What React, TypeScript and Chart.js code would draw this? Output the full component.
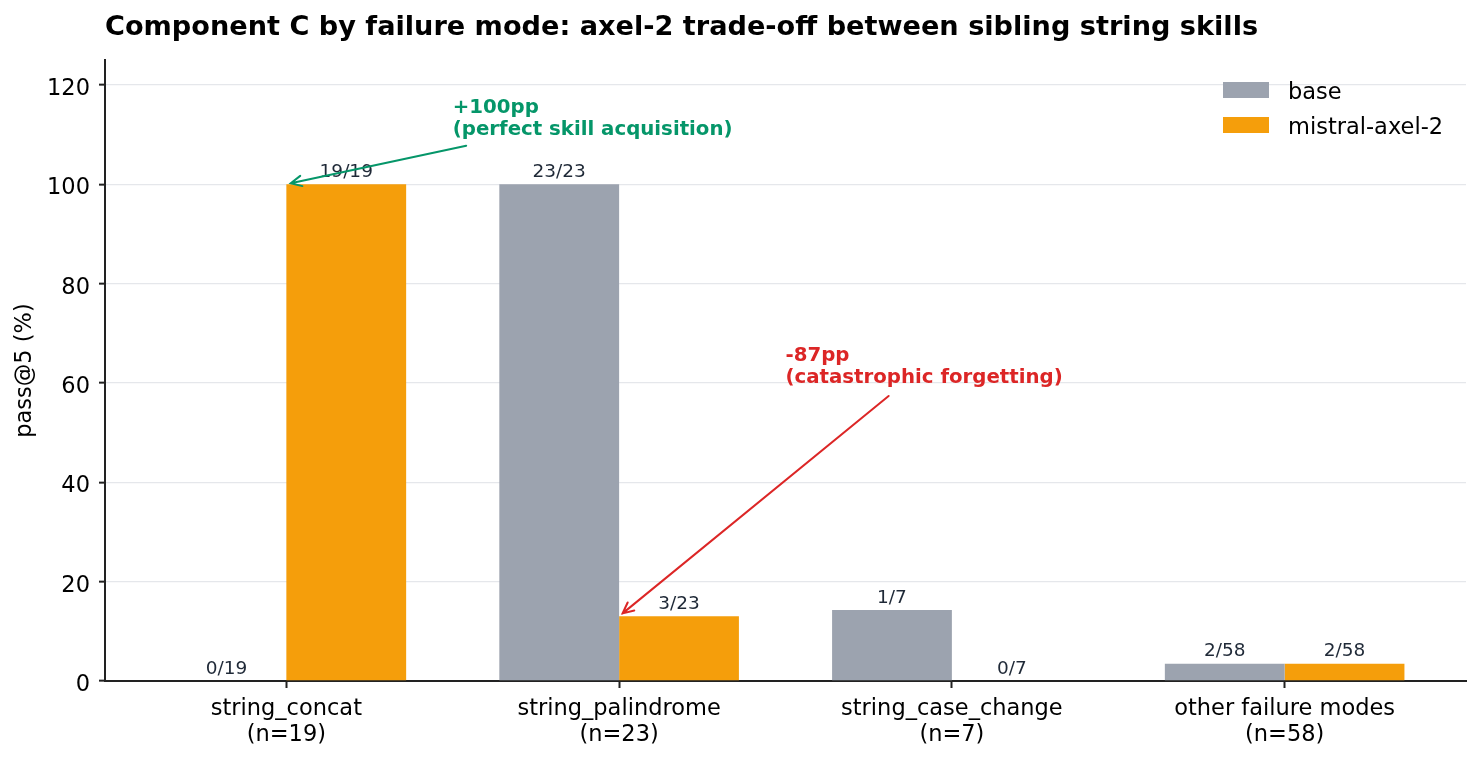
import React, { useEffect, useRef } from 'react';
import { Chart, registerables } from 'chart.js';

Chart.register(...registerables);

const FONT = "'DejaVu Sans', 'Liberation Sans', sans-serif";

// Data
const categories = ['string_concat', 'string_palindrome', 'string_case_change', 'other failure modes'];
const sampleSizes = [19, 23, 7, 58];
const basePct = [0, 100, 14.29, 3.45];
const axelPct = [100, 13.04, 0, 3.45];
const basePassed = [0, 23, 1, 2];
const axelPassed = [19, 3, 0, 2];
const yTicks = [0, 20, 40, 60, 80, 100, 120];

const seriesNames = ['base', 'mistral-axel-2'];
const seriesColors = ['#9ca3af', '#f59e0b'];

const annotations = [
    { lines: ['+100pp', '(perfect skill acquisition)'], color: '#059669', text: [0.5, 110], target: [0, 100] },
    { lines: ['-87pp', '(catastrophic forgetting)'], color: '#dc2626', text: [1.5, 60], target: [1, 13.04] },
];

const TITLE = 'Component C by failure mode: axel-2 trade-off between sibling string skills';

const overlayPlugin = {
    id: 'overlay',
    afterDatasetsDraw(chart: any) {
        const { ctx, scales } = chart;
        const xs = scales.x;
        const ys = scales.y;
        ctx.save();

        // y tick labels (drawn here to match the matplotlib baseline)
        ctx.font = `22.5px ${FONT}`;
        ctx.fillStyle = '#000';
        ctx.textAlign = 'right';
        ctx.textBaseline = 'alphabetic';
        yTicks.forEach(v => {
            ctx.fillText(String(v), 90, ys.getPixelForValue(v) + 10);
        });

        // count labels above bars
        const counts = [basePassed, axelPassed];
        ctx.font = `18.5px ${FONT}`;
        ctx.fillStyle = '#1f2937';
        ctx.textAlign = 'center';
        chart.data.datasets.forEach((_: any, di: number) => {
            const meta = chart.getDatasetMeta(di);
            meta.data.forEach((bar: any, i: number) => {
                ctx.fillText(`${counts[di][i]}/${sampleSizes[i]}`, bar.x, bar.y - 7.5);
            });
        });

        // annotations with arrows
        const fs = 19.75;
        const lh = 21.5;
        const pad = 5.5;
        const shrink = 4.5;
        annotations.forEach(a => {
            ctx.font = `bold ${fs}px ${FONT}`;
            const tx = xs.getPixelForValue(a.text[0]);
            const lastBase = ys.getPixelForValue(a.text[1]);
            const firstBase = lastBase - lh * (a.lines.length - 1);
            const w = Math.max(...a.lines.map(l => ctx.measureText(l).width));
            const top = firstBase - 0.76 * fs;
            const bottom = lastBase + 0.24 * fs;
            const cx = tx + w / 2;
            const cy = (top + bottom) / 2;
            const px = xs.getPixelForValue(a.target[0]);
            const py = ys.getPixelForValue(a.target[1]);
            const dx = px - cx;
            const dy = py - cy;
            let t = 1;
            if (dx !== 0) t = Math.min(t, ((dx > 0 ? tx + w + pad : tx - pad) - cx) / dx);
            if (dy !== 0) t = Math.min(t, ((dy > 0 ? bottom + pad : top - pad) - cy) / dy);
            const len = Math.hypot(dx, dy);
            const ux = dx / len;
            const uy = dy / len;
            const sx = cx + dx * t + ux * shrink;
            const sy = cy + dy * t + uy * shrink;
            const ex = px - ux * shrink;
            const ey = py - uy * shrink;

            ctx.strokeStyle = a.color;
            ctx.lineWidth = 2;
            ctx.lineCap = 'round';
            ctx.beginPath();
            ctx.moveTo(sx, sy);
            ctx.lineTo(ex, ey);
            const ang = Math.atan2(ey - sy, ex - sx);
            const head = 12;
            ctx.moveTo(ex - head * Math.cos(ang - 0.45), ey - head * Math.sin(ang - 0.45));
            ctx.lineTo(ex, ey);
            ctx.lineTo(ex - head * Math.cos(ang + 0.45), ey - head * Math.sin(ang + 0.45));
            ctx.stroke();

            ctx.fillStyle = a.color;
            ctx.textAlign = 'left';
            a.lines.forEach((l, i) => ctx.fillText(l, tx, firstBase + i * lh));
        });

        // legend (upper right, no frame)
        ctx.font = `22.5px ${FONT}`;
        ctx.textAlign = 'left';
        chart.data.datasets.forEach((ds: any, i: number) => {
            ctx.fillStyle = ds.backgroundColor;
            ctx.fillRect(1223, 82 + i * 35, 46, 16);
            ctx.fillStyle = '#000';
            ctx.fillText(ds.label, 1288, 99 + i * 34.5);
        });

        // title
        ctx.font = `bold 27.15px ${FONT}`;
        ctx.fillStyle = '#000';
        ctx.fillText(TITLE, 105, 35);
        ctx.restore();
    },
};

const App: React.FC = () => {
    const canvasRef = useRef<HTMLCanvasElement>(null);

    useEffect(() => {
        if (!canvasRef.current) return;
        Chart.defaults.font.family = FONT;
        Chart.defaults.color = '#000';

        const chart = new Chart(canvasRef.current, {
            type: 'bar',
            data: {
                datasets: [
                    {
                        label: seriesNames[0],
                        data: categories.map((_, i) => ({ x: i, y: basePct[i] })),
                        backgroundColor: seriesColors[0],
                    },
                    {
                        label: seriesNames[1],
                        data: categories.map((_, i) => ({ x: i, y: axelPct[i] })),
                        backgroundColor: seriesColors[1],
                    },
                ],
            },
            options: {
                animation: false,
                responsive: false,
                layout: { padding: { left: 0, right: 14, top: 60, bottom: 0 } },
                datasets: { bar: { categoryPercentage: 0.72, barPercentage: 1, borderWidth: 0 } },
                plugins: {
                    legend: { display: false },
                    tooltip: { enabled: false },
                    title: { display: false },
                },
                scales: {
                    x: {
                        type: 'linear',
                        min: -0.545,
                        max: 3.545,
                        offset: false,
                        afterBuildTicks: (s: any) => { s.ticks = categories.map((_, i) => ({ value: i })); },
                        afterFit: (s: any) => { s.height = 79; },
                        grid: { offset: false, drawOnChartArea: false, drawTicks: true, tickLength: 7, tickColor: '#222', tickWidth: 2 },
                        border: { display: true, color: '#222', width: 2 },
                        ticks: {
                            autoSkip: false,
                            maxRotation: 0,
                            padding: 8,
                            color: '#000',
                            font: { size: 22.5, lineHeight: 26 / 22.5 },
                            callback: (v: any) => [categories[v], `(n=${sampleSizes[v]})`],
                        },
                    },
                    y: {
                        min: 0,
                        max: 125,
                        afterBuildTicks: (s: any) => { s.ticks = yTicks.map(v => ({ value: v })); },
                        afterFit: (s: any) => { s.width = 105; },
                        grid: {
                            color: (c: any) => (c.tick && c.tick.value === 0 ? 'rgba(0,0,0,0)' : '#e5e7eb'),
                            lineWidth: 1.3,
                            tickColor: '#222',
                            tickLength: 6,
                            tickWidth: 2,
                        },
                        border: { display: true, color: '#222', width: 2 },
                        ticks: { display: false },
                        title: {
                            display: true,
                            text: 'pass@5 (%)',
                            color: '#000',
                            font: { size: 22.5 },
                            padding: { top: 11.5, bottom: 0 },
                        },
                    },
                },
            } as any,
            plugins: [overlayPlugin],
        });

        return () => chart.destroy();
    }, []);

    return (
        <div style={{ position: 'fixed', left: 0, top: 0, width: 1480, height: 760, background: '#fff' }}>
            <canvas ref={canvasRef} width={1480} height={760} style={{ display: 'block', width: 1480, height: 760 }} />
        </div>
    );
};

export default App;
